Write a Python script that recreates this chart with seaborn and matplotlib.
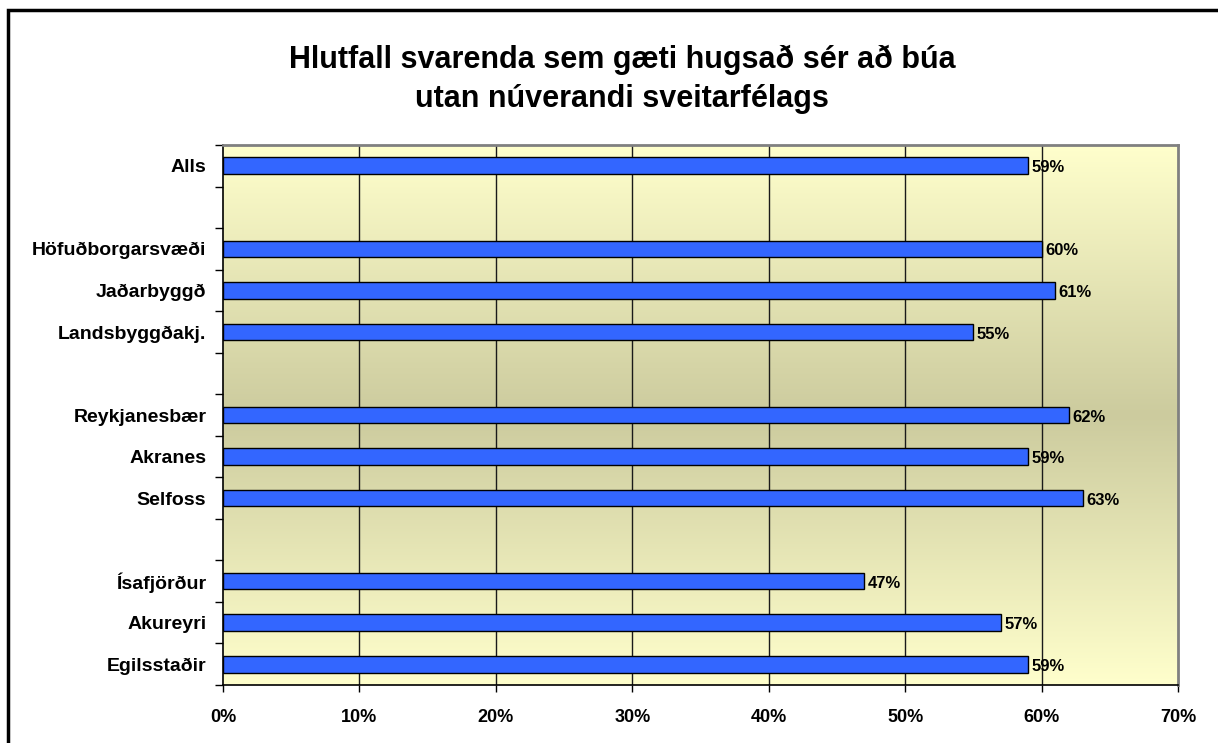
import matplotlib
matplotlib.use("Agg")
import matplotlib.pyplot as plt
from matplotlib.patches import Rectangle
from matplotlib.colors import LinearSegmentedColormap
import seaborn as sns
import numpy as np
import pandas as pd

# gögn
slots = ["Alls", " ", "Höfuðborgarsvæði", "Jaðarbyggð", "Landsbyggðakj.", "  ",
         "Reykjanesbær", "Akranes", "Selfoss", "   ",
         "Ísafjörður", "Akureyri", "Egilsstaðir"]
places = ["Alls", "Höfuðborgarsvæði", "Jaðarbyggð", "Landsbyggðakj.",
          "Reykjanesbær", "Akranes", "Selfoss",
          "Ísafjörður", "Akureyri", "Egilsstaðir"]
shares = [59, 60, 61, 55, 62, 59, 63, 47, 57, 59]
x_ticks = [0, 10, 20, 30, 40, 50, 60, 70]

df = pd.DataFrame({"stadur": places, "hlutfall": shares})

sns.set_theme(style="white")
plt.rcParams["font.family"] = ["Liberation Sans", "DejaVu Sans"]
plt.rcParams["font.weight"] = "bold"
plt.rcParams["text.color"] = "black"
plt.rcParams["xtick.color"] = "black"
plt.rcParams["ytick.color"] = "black"
plt.rcParams["xtick.labelcolor"] = "black"
plt.rcParams["ytick.labelcolor"] = "black"

fig = plt.figure(figsize=(12.18, 7.43), dpi=100)
ax = fig.add_axes([0.1831, 0.0781, 0.7841, 0.7267])

# bakgrunnur með litahalla (ljósgulur -> kakí -> ljósgulur)
cmap = LinearSegmentedColormap.from_list(
    "bg", ["#FFFFCC", "#CCCB9E", "#FFFFCC"])
grad = np.linspace(0, 1, 256).reshape(-1, 1)
ax.imshow(grad, extent=[0, 70, len(slots) - 0.5, -0.5], aspect="auto",
          cmap=cmap, zorder=0, interpolation="bicubic")

sns.barplot(data=df, x="hlutfall", y="stadur", order=slots, orient="h",
            color="#3366FF", saturation=1, width=0.4,
            edgecolor="black", linewidth=1, ax=ax, zorder=3)

ax.set_xlim(0, 70)
ax.set_ylim(len(slots) - 0.5, -0.5)
ax.set_xlabel("")
ax.set_ylabel("")

# lóðréttar hnitalínur
for v in x_ticks[1:-1]:
    ax.axvline(v, color="#1a1a1a", linewidth=1, zorder=1)

# gildismerki
for name, val in zip(places, shares):
    ax.text(val + 0.25, slots.index(name) + 0.05, f"{val}%", ha="left",
            va="center", fontsize=12, fontweight="bold", color="black", zorder=4)

ax.set_xticks(x_ticks)
ax.set_xticklabels([f"{v}%" for v in x_ticks], fontsize=13, fontweight="bold")
ax.tick_params(axis="x", which="major", length=5, width=1, color="black",
               direction="out", bottom=True, pad=12)

ax.set_yticks(range(len(slots)))
ax.set_yticklabels(slots, fontsize=14, fontweight="bold")
ax.set_yticks(np.arange(-0.5, len(slots), 1), minor=True)
ax.tick_params(axis="y", which="major", length=0, pad=12)
ax.tick_params(axis="y", which="minor", length=6, width=1, color="black",
               direction="out", left=True)

for side in ["left", "bottom"]:
    ax.spines[side].set_color("black")
    ax.spines[side].set_linewidth(1.2)
for side in ["top", "right"]:
    ax.spines[side].set_color("#808080")
    ax.spines[side].set_linewidth(2)
    ax.spines[side].set_visible(True)

fig.text(0.511, 0.893, "Hlutfall svarenda sem gæti hugsað sér að búa\nutan núverandi sveitarfélags",
         ha="center", va="center", fontsize=22, fontweight="bold",
         color="black", linespacing=1.4)

# rammi utan um myndina
fig.patches.append(Rectangle((8 / 1218, -0.1), 1.2, 1 - 10 / 743 + 0.1,
                             transform=fig.transFigure, fill=False,
                             edgecolor="black", linewidth=2.5))

fig.savefig("out.png", dpi=100)
plt.close(fig)
